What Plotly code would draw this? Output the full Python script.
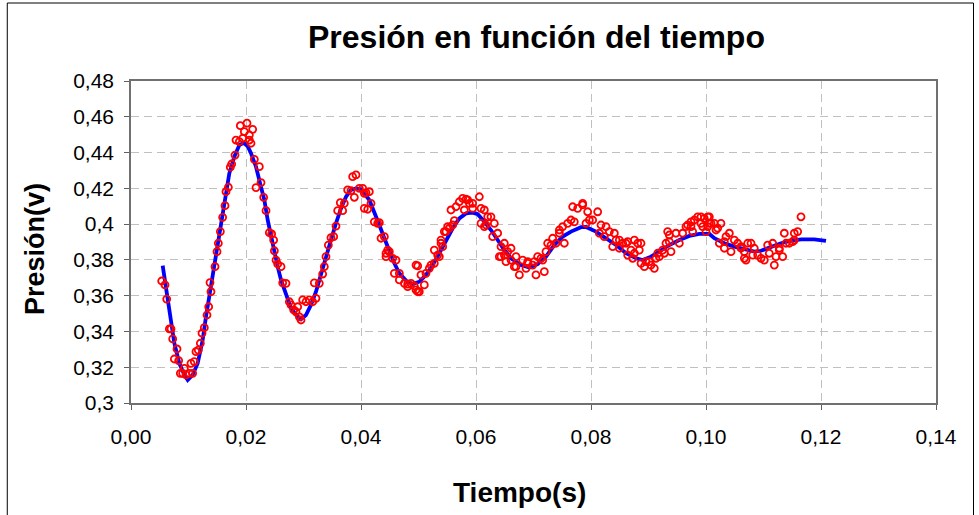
import plotly.graph_objects as go

# Measured data (red circles)
t_meas = [0.00534,0.00591,0.00621,0.00667,0.00696,0.00725,0.00800,0.00754,0.00829,0.00858,0.00899,0.00928,0.00957,0.01014,0.01072,0.01043,0.01101,0.01130,0.01170,0.01206,0.01235,0.01275,0.01322,0.01351,0.01391,0.01374,0.01461,0.01496,0.01519,0.01554,0.01594,0.01635,0.01652,0.01693,0.01727,0.01751,0.01809,0.01826,0.01884,0.01901,0.01971,0.02017,0.02058,0.01942,0.02116,0.02087,0.02058,
0.02145,0.02232,0.02261,0.02174,0.02307,0.02348,0.02406,0.02446,0.02481,0.02493,0.02522,0.02551,0.02609,0.02638,0.02696,0.02754,0.02783,0.02830,0.02870,0.02928,0.02957,0.02899,0.02986,0.03043,0.03101,0.03160,0.03217,0.03188,0.03275,0.03333,0.03362,0.03391,0.03432,0.03478,0.03525,0.03565,0.03594,0.03640,0.03710,0.03681,0.03768,0.03826,0.03855,0.03913,0.03884,0.03971,
0.04058,0.04116,0.04174,0.04087,0.04145,0.04232,0.04290,0.04348,0.04435,0.04493,0.04609,0.04580,0.04667,0.04754,0.04812,0.04030,0.04058,0.04319,0.04406,0.04464,0.04551,0.04435,0.04667,0.04812,0.04870,0.04928,0.04957,0.05014,0.05101,0.04986,0.05043,0.05130,0.05188,0.05275,0.05275,0.05362,0.05420,0.05391,0.05478,0.05536,0.05594,0.05623,0.05565,0.05652,0.05710,0.05768,0.05826,0.05884,0.05942,0.05797,0.05855,0.05942,
0.06058,0.06087,0.06145,0.06203,0.06260,0.06087,0.06174,0.06319,0.06290,0.06377,0.06435,0.06493,0.06551,0.06609,0.06435,0.06522,0.06667,0.06754,0.06696,0.06812,0.06899,0.06986,0.07043,0.07072,0.07160,0.07188,0.07246,0.07333,0.07391,0.07450,0.07507,0.07536,0.07594,0.07652,0.07710,0.07681,0.07768,0.07855,0.07942,0.08116,0.08029,0.08174,0.08261,0.08319,0.08406,0.08493,0.08551,0.08638,0.08754,0.08696,0.08870,0.08928,0.09014,0.09101,0.09188,0.09246,0.09333,0.09362,
0.06406,0.06696,0.06870,0.07014,0.07217,0.07304,0.07450,0.07855,0.07913,0.06145,0.06493,0.06609,0.06899,0.07130,0.07971,0.08145,0.08232,0.08435,0.08377,0.08493,0.08609,0.08812,0.08840,0.08754,0.08725,0.08638,0.08870,0.08957,0.09043,0.09130,0.09160,0.09275,0.09304,0.09391,0.09478,0.09594,0.09652,0.09681,0.09739,0.09768,0.09855,0.09913,0.09971,0.10000,0.10058,0.10030,
0.09362,0.09536,0.09739,0.09797,0.09913,0.10058,0.09942,0.10087,0.10145,0.10203,0.10260,0.10232,0.10319,0.10406,0.10435,0.10493,0.10551,0.10609,0.10667,0.10725,0.10783,0.10840,0.10812,0.10899,0.10957,0.11014,0.11072,0.11160,0.11188,0.11275,0.11333,0.11362,0.11391,0.11450,0.11507,0.11536,0.11594,0.11652,
0.10029,0.10174,0.10348,0.10319,0.10609,0.10667,0.10696,0.11100,0.11217,0.11275,0.11536,0.04986,0.04957,0.05217,0.05333,0.05391,0.05449,0.05507]
p_meas = [0.3682,0.3660,0.3581,0.3414,0.3414,0.3358,0.3302,0.3246,0.3237,0.3166,0.3166,0.3194,0.3157,0.3166,0.3166,0.3222,0.3231,0.3287,0.3296,0.3334,0.3390,0.3421,0.3492,0.3538,0.3622,0.3673,0.3762,0.3846,0.3893,0.3958,0.4038,0.4103,0.4181,0.4206,0.4318,0.4336,0.4386,0.4470,0.4461,0.4550,0.4517,0.4564,0.4498,0.4480,0.4530,0.4452,0.4470,
0.4362,0.4321,0.4232,0.4204,0.4150,0.4075,0.3952,0.3945,0.3911,0.3851,0.3799,0.3777,0.3762,0.3672,0.3669,0.3566,0.3548,0.3520,0.3510,0.3482,0.3464,0.3538,0.3576,0.3566,0.3576,0.3566,0.3585,0.3672,0.3669,0.3721,0.3762,0.3818,0.3883,0.3924,0.3930,0.3989,0.4075,0.4120,0.4116,0.4075,0.4191,0.4187,0.4265,0.4275,0.4150,0.4200,
0.4088,0.4083,0.4116,0.4176,0.4181,0.4013,0.4004,0.3921,0.3837,0.3846,0.3799,0.3725,0.3688,0.3669,0.3650,0.4200,0.4172,0.4008,0.3930,0.3855,0.3809,0.3818,0.3725,0.3665,0.3669,0.3654,0.3632,0.3622,0.3660,0.3766,0.3716,0.3725,0.3753,0.3855,0.3781,0.3818,0.3874,0.3911,0.3958,0.3977,0.3995,0.4019,0.4079,0.4097,0.4125,0.4144,0.4139,0.4116,0.4088,0.4079,0.4135,0.4116,
0.4153,0.4088,0.4079,0.4041,0.4041,0.4004,0.3995,0.4004,0.3930,0.3949,0.3874,0.3893,0.3846,0.3865,0.3818,0.3790,0.3762,0.3716,0.3818,0.3799,0.3781,0.3771,0.3716,0.3818,0.3799,0.3734,0.3893,0.3921,0.3893,0.3967,0.3986,0.3893,0.4004,0.4023,0.4013,0.4097,0.4088,0.4107,0.4069,0.4069,0.4023,0.3995,0.3986,0.3958,0.3949,0.3911,0.3893,0.3902,0.3911,0.3855,0.3893,0.3762,0.3790,0.3753,0.3818,0.3855,0.3958,0.3902,
0.3818,0.3762,0.3753,0.3790,0.3846,0.3883,0.3949,0.4116,0.4004,0.3986,0.3827,0.3799,0.3790,0.3809,0.4023,0.3949,0.3930,0.3911,0.3874,0.3865,0.3893,0.3893,0.3855,0.3837,0.3809,0.3827,0.3781,0.3790,0.3771,0.3809,0.3837,0.3837,0.3893,0.3846,0.3949,0.3949,0.3986,0.3995,0.4013,0.3958,0.4041,0.4004,0.4032,0.3958,0.4004,0.4041,
0.3939,0.3893,0.3986,0.4023,0.4041,0.4041,0.3986,0.4004,0.4004,0.3977,0.4004,0.3893,0.3902,0.3949,0.3846,0.3911,0.3893,0.3865,0.3809,0.3893,0.3893,0.3865,0.3827,0.3827,0.3809,0.3799,0.3883,0.3893,0.3771,0.3865,0.3818,0.3949,0.3893,0.3893,0.3902,0.3949,0.3958,0.4041,
0.3986,0.3967,0.3930,0.3865,0.3874,0.3846,0.3799,0.3837,0.3818,0.3855,0.3911,0.3622,0.3771,0.3771,0.3827,0.3893,0.3958,0.3986]

# Fitted curve (blue line)
t_fit = [0.00551,0.00638,0.00696,0.00754,0.00840,0.00928,0.00986,0.01072,0.01160,0.01246,0.01304,0.01362,0.01420,0.01478,0.01536,0.01594,0.01652,0.01710,0.01797,0.01884,0.01960,0.02030,0.02087,0.02174,0.02260,0.02319,0.02377,0.02435,0.02493,0.02551,0.02609,0.02696,0.02783,0.02870,0.02957,0.03043,0.03130,0.03217,0.03304,0.03391,0.03478,0.03565,0.03652,0.03740,0.03826,0.03913,0.04000,0.04145,0.04232,0.04319,0.04406,0.04493,0.04580,0.04667,0.04783,0.04899,0.05014,0.05130,0.05247,0.05362,0.05478,0.05595,0.05710,0.05826,0.05942,0.06030,0.06145,0.06260,0.06377,0.06493,0.06609,0.06783,0.06928,0.07072,0.07217,0.07362,0.07507,0.07652,0.07826,0.07913,0.08087,0.08261,0.08435,0.08609,0.08783,0.08899,0.09043,0.09188,0.09362,0.09536,0.09710,0.09884,0.10060,0.10145,0.10319,0.10493,0.10667,0.10840,0.10957,0.11130,0.11304,0.11478,0.11652,0.11884,0.12087]
p_fit = [0.3768,0.3594,0.3446,0.3334,0.3222,0.3157,0.3129,0.3157,0.3222,0.3352,0.3482,0.3594,0.3725,0.3837,0.3949,0.4060,0.4172,0.4284,0.4377,0.4442,0.4455,0.4435,0.4396,0.4321,0.4209,0.4135,0.4023,0.3930,0.3837,0.3762,0.3688,0.3604,0.3529,0.3492,0.3468,0.3492,0.3548,0.3622,0.3725,0.3818,0.3911,0.4005,0.4088,0.4153,0.4191,0.4200,0.4195,0.4135,0.4069,0.3995,0.3921,0.3846,0.3781,0.3725,0.3684,0.3665,0.3678,0.3716,0.3771,0.3837,0.3911,0.3977,0.4032,0.4060,0.4064,0.4055,0.4013,0.3967,0.3911,0.3855,0.3809,0.3771,0.3758,0.3777,0.3818,0.3883,0.3930,0.3958,0.3983,0.3984,0.3958,0.3921,0.3883,0.3837,0.3809,0.3799,0.3818,0.3846,0.3883,0.3911,0.3934,0.3945,0.3945,0.3921,0.3893,0.3874,0.3859,0.3846,0.3851,0.3874,0.3893,0.3907,0.3915,0.3915,0.3906]

x_ticks = [0.00, 0.02, 0.04, 0.06, 0.08, 0.10, 0.12, 0.14]
x_labels = ["0,00", "0,02", "0,04", "0,06", "0,08", "0,10", "0,12", "0,14"]
y_ticks = [0.30, 0.32, 0.34, 0.36, 0.38, 0.40, 0.42, 0.44, 0.46, 0.48]
y_labels = ["0,3", "0,32", "0,34", "0,36", "0,38", "0,4", "0,42", "0,44", "0,46", "0,48"]

FONT = "Liberation Sans, Arial, sans-serif"

fig = go.Figure()
fig.add_trace(go.Scatter(x=t_fit, y=p_fit, mode="lines",
                         line=dict(color="#0000ff", width=3.8), hoverinfo="skip"))
fig.add_trace(go.Scatter(x=t_meas, y=p_meas, mode="markers",
                         marker=dict(symbol="circle-open", size=7, color="#ff0000",
                                     line=dict(color="#ff0000", width=1.8))))

axis_common = dict(showline=True, linecolor="#707070", linewidth=1.5, mirror=True,
                   showgrid=True, gridcolor="#c0c0c0", griddash="8px,5px", gridwidth=1,
                   zeroline=False, ticks="outside", ticklen=5, tickcolor="#606060",
                   tickwidth=1.3,
                   tickfont=dict(family=FONT, size=21, color="#000000"))

fig.update_layout(
    width=979, height=515,
    margin=dict(l=131, r=43, t=81, b=112),
    paper_bgcolor="white", plot_bgcolor="white",
    showlegend=False,
    xaxis=dict(range=[0, 0.14], tickvals=x_ticks, ticktext=x_labels,
               ticklabelstandoff=9, **axis_common),
    yaxis=dict(range=[0.3, 0.48], tickvals=y_ticks, ticktext=y_labels,
               ticklabelstandoff=6, **axis_common),
    annotations=[
        dict(text="<b>Presión en función del tiempo</b>", xref="paper", yref="paper",
             x=0.504, y=1.137, showarrow=False, xanchor="center", yanchor="middle",
             font=dict(family=FONT, size=32, color="#000000")),
        dict(text="<b>Tiempo(s)</b>", xref="paper", yref="paper",
             x=0.483, y=-0.2795, showarrow=False, xanchor="center", yanchor="middle",
             font=dict(family=FONT, size=28, color="#000000")),
        dict(text="<b>Presión(v)</b>", xref="paper", yref="paper",
             x=-0.119, y=0.479, showarrow=False, xanchor="center", yanchor="middle",
             textangle=-90, font=dict(family=FONT, size=27, color="#000000")),
    ],
    shapes=[
        dict(type="rect", xref="paper", yref="paper", x0=-0.1537, x1=1.0466,
             y0=-0.6, y1=1.2422, line=dict(color="#000000", width=1), layer="below"),
    ],
)

fig.write_html("out.html", config={"displayModeBar": False},
               post_script="document.body.style.margin='0px';")
